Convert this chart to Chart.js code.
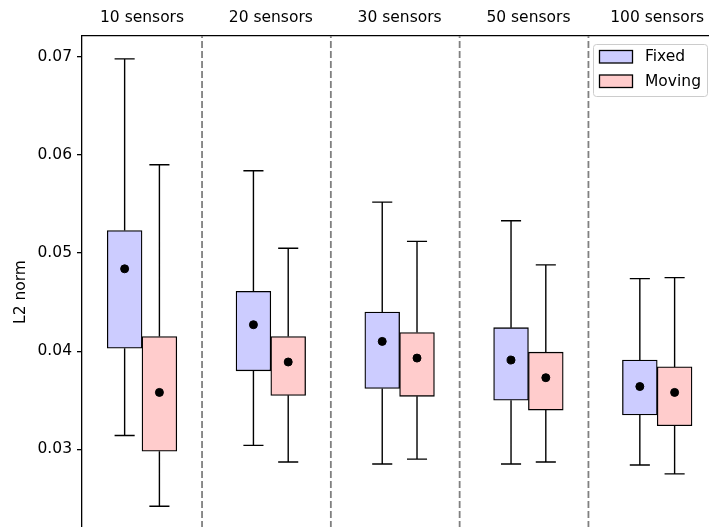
<!DOCTYPE html>
<html lang="en">
<head>
    <meta charset="UTF-8">
    <title>L2 norm by number of sensors</title>
    <script src="https://cdn.jsdelivr.net/npm/chart.js"></script>
    <style>
        html, body { margin: 0; padding: 0; overflow: hidden; background: #fff; }
        canvas { display: block; }
    </style>
</head>
<body>
    <canvas id="myChart" width="709" height="548"></canvas>

    <script>
        // groups and box stats
        const groups = ['10 sensors', '20 sensors', '30 sensors', '50 sensors', '100 sensors'];

        const fixedMin  = [0.0314, 0.0304, 0.0285, 0.0285, 0.0284];
        const fixedQ1   = [0.0403, 0.0380, 0.0362, 0.0350, 0.0335];
        const fixedQ3   = [0.0523, 0.0461, 0.0440, 0.0424, 0.0391];
        const fixedMax  = [0.0698, 0.0584, 0.0552, 0.0533, 0.0474];
        const fixedMean = [0.0484, 0.0427, 0.0410, 0.0391, 0.0364];

        const movingMin  = [0.0242, 0.0287, 0.0290, 0.0287, 0.0275];
        const movingQ1   = [0.0298, 0.0355, 0.0354, 0.0340, 0.0324];
        const movingQ3   = [0.0415, 0.0415, 0.0419, 0.0399, 0.0384];
        const movingMax  = [0.0590, 0.0505, 0.0512, 0.0488, 0.0475];
        const movingMean = [0.0358, 0.0389, 0.0393, 0.0373, 0.0358];

        const yTicks = [0.03, 0.04, 0.05, 0.06, 0.07];
        const yMin = 0.01994, yMax = 0.07213;

        const off = 0.135;   // box offset from group centre
        const cap = 0.078;   // half whisker cap width
        const sep = 0.466;   // dashed separator position after each group

        const FONT = 'DejaVu Sans';
        Chart.defaults.font.family = FONT;
        Chart.defaults.font.size = 15.5;
        Chart.defaults.color = '#000';

        function boxes(dx, q1, q3) {
            return groups.map((g, i) => ({ x: i + dx, y: [q1[i], q3[i]] }));
        }

        function whiskers(dx, lo, q1, q3, hi) {
            const pts = [];
            groups.forEach((g, i) => {
                const x = i + dx;
                pts.push({x: x, y: q3[i]}, {x: x, y: hi[i]}, {x: x, y: null});
                pts.push({x: x, y: q1[i]}, {x: x, y: lo[i]}, {x: x, y: null});
                pts.push({x: x - cap, y: hi[i]}, {x: x + cap, y: hi[i]}, {x: x, y: null});
                pts.push({x: x - cap, y: lo[i]}, {x: x + cap, y: lo[i]}, {x: x, y: null});
            });
            return pts;
        }

        function means(dx, m) {
            return groups.map((g, i) => ({ x: i + dx, y: m[i] }));
        }

        const sepPts = [];
        for (let i = 0; i < groups.length - 1; i++) {
            sepPts.push({x: i + sep, y: yMin}, {x: i + sep, y: yMax}, {x: i + sep, y: null});
        }

        // no extra room for end labels, the axes fill the canvas
        function noPad(s) {
            s.paddingTop = 0; s.paddingBottom = 0; s.paddingLeft = 0; s.paddingRight = 0;
        }

        // legend drawn inside the axes, upper right
        const boxLegend = {
            id: 'boxLegend',
            afterDraw(chart) {
                const ctx = chart.ctx;
                const a = chart.chartArea;
                const items = chart.data.datasets.filter(d => d.showInLegend);
                const w = 114, h = 52;
                const x0 = a.right - 1.5 - w, y0 = a.top + 8.5;
                ctx.save();
                ctx.beginPath();
                ctx.roundRect(x0, y0, w, h, 3);
                ctx.fillStyle = 'rgba(255,255,255,0.8)';
                ctx.fill();
                ctx.strokeStyle = '#cccccc';
                ctx.lineWidth = 1;
                ctx.stroke();
                items.forEach((d, k) => {
                    const py = y0 + 6 + k * 24.5;
                    ctx.fillStyle = d.backgroundColor;
                    ctx.fillRect(x0 + 6, py, 33, 12.5);
                    ctx.strokeStyle = '#000';
                    ctx.lineWidth = 1.3;
                    ctx.strokeRect(x0 + 6, py, 33, 12.5);
                    ctx.fillStyle = '#000';
                    ctx.font = '15.5px "' + FONT + '"';
                    ctx.textBaseline = 'middle';
                    ctx.fillText(d.label, x0 + 51.5, py + 6.5);
                });
                ctx.restore();
            }
        };

        const ctx = document.getElementById('myChart').getContext('2d');
        new Chart(ctx, {
            type: 'bar',
            data: {
                datasets: [
                    {
                        type: 'scatter', label: 'Fixed mean', data: means(-off, fixedMean),
                        backgroundColor: '#000', borderColor: '#000', pointRadius: 4, order: 0
                    },
                    {
                        type: 'scatter', label: 'Moving mean', data: means(off, movingMean),
                        backgroundColor: '#000', borderColor: '#000', pointRadius: 4, order: 0
                    },
                    {
                        label: 'Fixed', data: boxes(-off, fixedQ1, fixedQ3), showInLegend: true,
                        backgroundColor: '#ccccff', borderColor: '#000', borderWidth: 1.3,
                        borderSkipped: false, barThickness: 34.8, grouped: false, order: 1
                    },
                    {
                        label: 'Moving', data: boxes(off, movingQ1, movingQ3), showInLegend: true,
                        backgroundColor: '#ffcccc', borderColor: '#000', borderWidth: 1.3,
                        borderSkipped: false, barThickness: 34.8, grouped: false, order: 1
                    },
                    {
                        type: 'line', label: 'Fixed whiskers', data: whiskers(-off, fixedMin, fixedQ1, fixedQ3, fixedMax),
                        borderColor: '#000', borderWidth: 1.4, pointRadius: 0, spanGaps: false, order: 2
                    },
                    {
                        type: 'line', label: 'Moving whiskers', data: whiskers(off, movingMin, movingQ1, movingQ3, movingMax),
                        borderColor: '#000', borderWidth: 1.4, pointRadius: 0, spanGaps: false, order: 2
                    },
                    {
                        type: 'line', label: 'separators', data: sepPts,
                        borderColor: '#808080', borderWidth: 1.8, borderDash: [7, 3],
                        pointRadius: 0, spanGaps: false, order: 3
                    }
                ]
            },
            options: {
                responsive: false,
                animation: false,
                layout: { padding: 0, autoPadding: false },
                plugins: {
                    legend: { display: false },
                    tooltip: { enabled: false }
                },
                scales: {
                    x: {
                        type: 'linear',
                        position: 'top',
                        offset: false,
                        min: -sep,
                        max: 4.402,
                        afterFit: s => { s.height = 36; noPad(s); },
                        afterBuildTicks: s => { s.ticks = groups.map((g, i) => ({ value: i })); },
                        ticks: {
                            padding: 9,
                            autoSkip: false,
                            maxRotation: 0,
                            callback: (v, i) => groups[i]
                        },
                        grid: { drawOnChartArea: false, drawTicks: false, tickLength: 0 },
                        border: { display: true, color: '#000', width: 1.3 }
                    },
                    y: {
                        type: 'linear',
                        min: yMin,
                        max: yMax,
                        afterFit: s => { s.width = 82; noPad(s); },
                        afterBuildTicks: s => { s.ticks = yTicks.map(v => ({ value: v })); },
                        ticks: {
                            padding: 5,
                            callback: v => v.toFixed(2)
                        },
                        grid: { drawOnChartArea: false, color: '#000', lineWidth: 1.3, tickLength: 5 },
                        border: { display: true, color: '#000', width: 1.3 },
                        title: {
                            display: true,
                            text: 'L2 norm',
                            font: { size: 15.5 },
                            padding: { top: 12, bottom: 0 }
                        }
                    }
                }
            },
            plugins: [boxLegend]
        });
    </script>
</body>
</html>
